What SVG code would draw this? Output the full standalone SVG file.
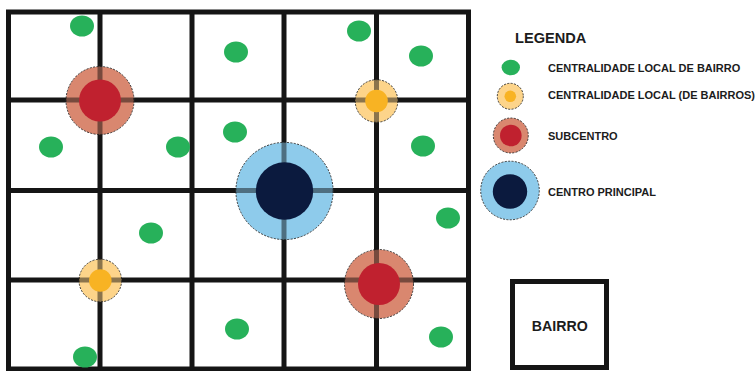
<svg xmlns="http://www.w3.org/2000/svg" width="755" height="371" viewBox="0 0 755 371">
<style>
.road{stroke:#151515;stroke-width:5;fill:none}
.green{fill:#27b15a}
.ring{stroke:#2a2a2a;stroke-width:0.9;stroke-dasharray:2 1.4}
.yo{fill:#fdd48a}.yi{fill:#f8b323}
.ro{fill:#d9876f}.ri{fill:#c0212f}
.bo{fill:#8ecbeb}.bi{fill:#0b1a3e}
.cross{stroke:#000;stroke-opacity:0.45;stroke-width:5;fill:none}
.t{font-family:"Liberation Sans",Arial,sans-serif;font-weight:bold;fill:#1c1c1c}
.s{font-size:11px}
</style>
<rect width="755" height="371" fill="#fff"/>
<g id="connectors">
<rect class="road" x="8.5" y="12" width="460" height="357"/>
<path class="road" d="M100,12V369M192,12V369M284,12V369M376.5,12V369M8.5,100H468.5M8.5,190.5H468.5M8.5,280H468.5"/>
</g>
<g id="green-dots">
<ellipse class="green" cx="82" cy="26" rx="12" ry="10.5"/>
<ellipse class="green" cx="236" cy="52" rx="12" ry="10.5"/>
<ellipse class="green" cx="51" cy="147" rx="12" ry="10.5"/>
<ellipse class="green" cx="178" cy="147" rx="12" ry="10.5"/>
<ellipse class="green" cx="235" cy="132" rx="12" ry="10.5"/>
<ellipse class="green" cx="359" cy="31" rx="12" ry="10.5"/>
<ellipse class="green" cx="421" cy="56" rx="12" ry="10.5"/>
<ellipse class="green" cx="423" cy="146" rx="12" ry="10.5"/>
<ellipse class="green" cx="151" cy="233" rx="12" ry="10.5"/>
<ellipse class="green" cx="85" cy="357" rx="12" ry="10.5"/>
<ellipse class="green" cx="237" cy="329" rx="12" ry="10.5"/>
<ellipse class="green" cx="448" cy="218" rx="12" ry="10.5"/>
<ellipse class="green" cx="441" cy="337" rx="12" ry="10.5"/>
</g>
<g id="subcentro-1">
<circle class="ro ring" cx="100" cy="100.5" r="34"/>
<path class="cross" d="M66,100H134M100,66.5V134.5"/>
<circle class="ri" cx="100" cy="100.5" r="21"/>
</g>
<g id="local-1">
<circle class="yo ring" cx="376.5" cy="101" r="21.3"/>
<path class="cross" d="M355.3,100H397.7M376.5,79.7V122.3"/>
<circle class="yi" cx="376.5" cy="101" r="11.3"/>
</g>
<g id="local-2">
<circle class="yo ring" cx="100.3" cy="280.5" r="21.3"/>
<path class="cross" d="M79,280H121.6M100,259.2V301.8"/>
<circle class="yi" cx="100.3" cy="280.5" r="11.3"/>
</g>
<g id="centro-principal">
<circle class="bo ring" cx="284.5" cy="191" r="48.6"/>
<path class="cross" d="M236,190.5H333M284,142.4V239.6"/>
<circle class="bi" cx="284.5" cy="191" r="28.7"/>
</g>
<g id="subcentro-2">
<circle class="ro ring" cx="379" cy="284" r="34.5"/>
<path class="cross" d="M344.7,280H413.3M376.5,249.6V318.4"/>
<circle class="ri" cx="379" cy="284" r="21"/>
</g>
<g id="legenda">
<text class="t" x="515" y="42.7" font-size="14.6">LEGENDA</text>
<ellipse class="green" cx="510.8" cy="67.5" rx="9.2" ry="7.8"/>
<text class="t s" x="548" y="71.7">CENTRALIDADE LOCAL DE BAIRRO</text>
<circle class="yo ring" cx="510.3" cy="96.3" r="13"/>
<circle class="yi" cx="510.3" cy="96.3" r="5.8"/>
<text class="t s" x="548" y="99.3">CENTRALIDADE LOCAL (DE BAIRROS)</text>
<circle class="ro ring" cx="510.8" cy="135.5" r="17.5"/>
<circle class="ri" cx="510.8" cy="135.5" r="10.8"/>
<text class="t s" x="548" y="140">SUBCENTRO</text>
<circle class="bo ring" cx="510" cy="190.5" r="29.3"/>
<circle class="bi" cx="510" cy="191.5" r="17.2"/>
<text class="t s" x="548" y="195.7">CENTRO PRINCIPAL</text>
</g>
<g id="bairro">
<rect class="road" x="512.5" y="281.5" width="94" height="86"/>
<text class="t" x="559.7" y="330.7" font-size="14.2" text-anchor="middle">BAIRRO</text>
</g>
</svg>
